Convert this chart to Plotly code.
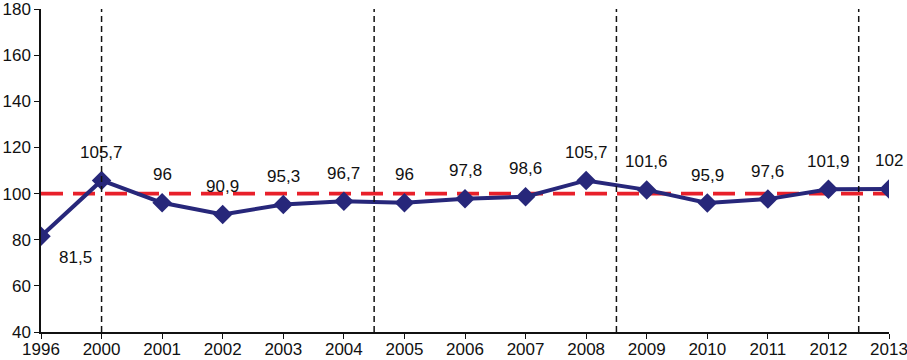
import plotly.graph_objects as go

years = ["1996", "2000", "2001", "2002", "2003", "2004", "2005", "2006", "2007",
         "2008", "2009", "2010", "2011", "2012", "2013"]
values = [81.5, 105.7, 96, 90.9, 95.3, 96.7, 96, 97.8, 98.6, 105.7, 101.6, 95.9, 97.6, 101.9, 102]
baseline = 100
separators = [1, 5.5, 9.5, 13.5]  # category positions of vertical dashed lines
y_ticks = [40, 60, 80, 100, 120, 140, 160, 180]

FONT = "Liberation Sans, Arial, sans-serif"

def fmt(v):
    return ("%g" % v).replace(".", ",")

fig = go.Figure()

fig.add_trace(go.Scatter(
    x=list(range(len(years))), y=[baseline] * len(years), mode="lines",
    line=dict(color="#E8202A", width=3.8, dash="22px,10px"),
    hoverinfo="skip", showlegend=False))

fig.add_trace(go.Scatter(
    x=list(range(len(years))), y=values, mode="lines+markers",
    line=dict(color="#27277A", width=4),
    marker=dict(symbol="diamond", size=15, color="#27277A"),
    showlegend=False))

for sx in separators:
    fig.add_shape(type="line", x0=sx, x1=sx, y0=40, y1=180, xref="x", yref="y",
                  line=dict(color="#111111", width=1.5, dash="6px,4px"))

annotations = []
for i, v in enumerate(values):
    if i == 0:
        annotations.append(dict(x=i, y=v, text=fmt(v), showarrow=False, xshift=34, yshift=-21,
                                font=dict(size=17, color="#111", family=FONT)))
    else:
        annotations.append(dict(x=i, y=v, text=fmt(v), showarrow=False, yshift=28,
                                font=dict(size=17, color="#111", family=FONT)))
fig.update_layout(annotations=annotations)

fig.update_layout(
    width=907, height=360,
    margin=dict(l=41, r=18, t=9, b=28),
    paper_bgcolor="white", plot_bgcolor="white",
    font=dict(family=FONT, size=17, color="#111"),
    xaxis=dict(range=[0, len(years) - 1], tickmode="array",
               tickvals=list(range(len(years))), ticktext=years,
               showgrid=False, zeroline=False, showline=True, linecolor="#111", linewidth=1.5,
               ticks="outside", ticklen=5, tickcolor="#111", automargin=False,
               ticklabeloverflow="allow", ticklabelstandoff=-4,
               tickfont=dict(size=17, family=FONT)),
    yaxis=dict(range=[40, 180], tickvals=y_ticks, showgrid=False, zeroline=False,
               showline=True, linecolor="#111", linewidth=1.5,
               ticks="outside", ticklen=5, tickcolor="#111", automargin=False,
               ticklabeloverflow="allow", tickfont=dict(size=17, family=FONT)),
)

fig.write_html("out.html", config={"displayModeBar": False},
               post_script="document.body.style.margin='0';")
